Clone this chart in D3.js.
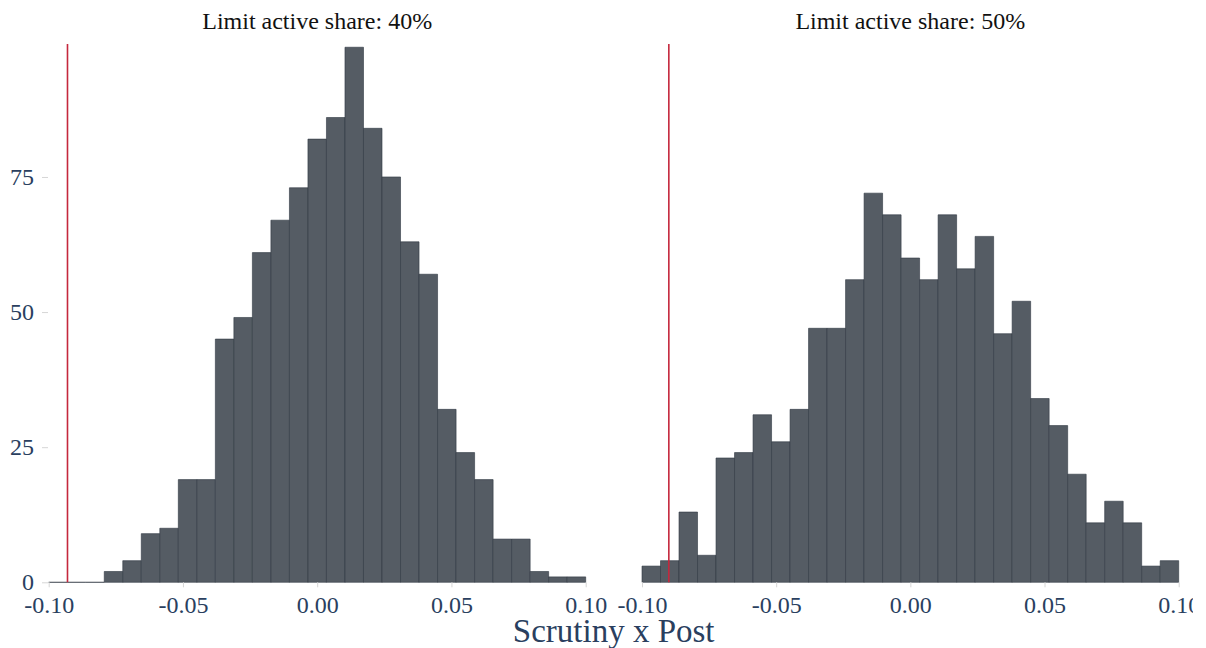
<!DOCTYPE html>
<html>
<head>
<meta charset="utf-8">
<script src="https://cdn.jsdelivr.net/npm/d3@7"></script>
<style>
  body { margin: 0; background: #fff; }
  svg { display: block; }
</style>
</head>
<body>
<svg width="1193" height="648"></svg>
<script>
// histogram counts, 29 equal bins from -0.10 to 0.10 in each panel
var binStart = -0.10,
    binWidth = 0.2 / 29;

var countsLeft = [0, 0, 0, 2, 4, 9, 10, 19, 19, 45, 49, 61, 67, 73, 82, 86, 99,
                  84, 75, 63, 57, 32, 24, 19, 8, 8, 2, 1, 1];
var countsRight = [3, 4, 13, 5, 23, 24, 31, 26, 32, 47, 47, 56, 72, 68, 60, 56, 68,
                   58, 64, 46, 52, 34, 29, 20, 11, 15, 11, 3, 4];

var panelTitles = ["Limit active share: 40%", "Limit active share: 50%"];
var thresholds = [-0.093, -0.090];   // red reference lines
var xTicks = [-0.10, -0.05, 0.00, 0.05, 0.10];
var yTicks = [0, 25, 50, 75];

var svg = d3.select("svg"),
    font = "'Liberation Serif', 'Times New Roman', serif",
    inkColor = "#2a3f5f";

var fmt = d3.formatLocale({decimal: ".", thousands: ",", grouping: [3], currency: ["", ""], minus: "-"})
    .format(".2f");

// shared y scale
var y = d3.scaleLinear().domain([0, 99.6]).range([582.3, 44]);

// the two panels sit side by side
var panels = [
    {counts: countsLeft, title: panelTitles[0], line: thresholds[0], x0: 48.7, x1: 585.7},
    {counts: countsRight, title: panelTitles[1], line: thresholds[1], x0: 642, x1: 1178.7}
];

panels.forEach(function (p, pi) {
    var x = d3.scaleLinear().domain([-0.10, 0.10]).range([p.x0, p.x1]);
    var g = svg.append("g");

    var bins = p.counts.map(function (c, i) {
        return {lo: binStart + i * binWidth, hi: binStart + (i + 1) * binWidth, n: c};
    });

    // bars drawn as closed paths so empty bins still show as a line
    g.selectAll(".bar")
        .data(bins)
        .enter().append("path")
        .attr("class", "bar")
        .attr("d", function (d) {
            var a = x(d.lo), b = x(d.hi), t = y(d.n), z = y(0);
            return "M" + a + "," + z + "H" + b + "V" + t + "H" + a + "Z";
        })
        .attr("fill", "#555c64")
        .attr("stroke", "#2f3842")
        .attr("stroke-width", 0.6);

    // red vertical line
    g.append("line")
        .attr("x1", x(p.line)).attr("x2", x(p.line))
        .attr("y1", y.range()[1]).attr("y2", y(0))
        .attr("stroke", "#c5283d")
        .attr("stroke-width", 1.6);

    // x axis
    var xa = g.append("g")
        .attr("transform", "translate(0," + y(0) + ")")
        .call(d3.axisBottom(x).tickValues(xTicks).tickFormat(fmt).tickSize(5).tickPadding(9));
    xa.select(".domain").remove();
    xa.selectAll("line").attr("stroke", "#d6d6d6");
    xa.selectAll("text").attr("fill", inkColor).style("font-family", font).style("font-size", "24px");

    // y axis only on the first panel
    if (pi === 0) {
        var ya = g.append("g")
            .attr("transform", "translate(" + (p.x0 - 0.7) + ",0)")
            .call(d3.axisLeft(y).tickValues(yTicks).tickSize(6).tickPadding(8));
        ya.select(".domain").remove();
        ya.selectAll("line").attr("stroke", "#d6d6d6");
        ya.selectAll("text").attr("fill", inkColor).style("font-family", font).style("font-size", "24px");
    }

    // panel title
    g.append("text")
        .attr("x", (p.x0 + p.x1) / 2)
        .attr("y", 29)
        .attr("text-anchor", "middle")
        .style("font-family", font)
        .style("font-size", "24px")
        .attr("fill", "#111")
        .text(p.title);
});

// shared x axis title
svg.append("text")
    .attr("x", (panels[0].x0 + panels[1].x1) / 2)
    .attr("y", 642)
    .attr("text-anchor", "middle")
    .style("font-family", font)
    .style("font-size", "33px")
    .attr("fill", inkColor)
    .text("Scrutiny x Post");
</script>
</body>
</html>
